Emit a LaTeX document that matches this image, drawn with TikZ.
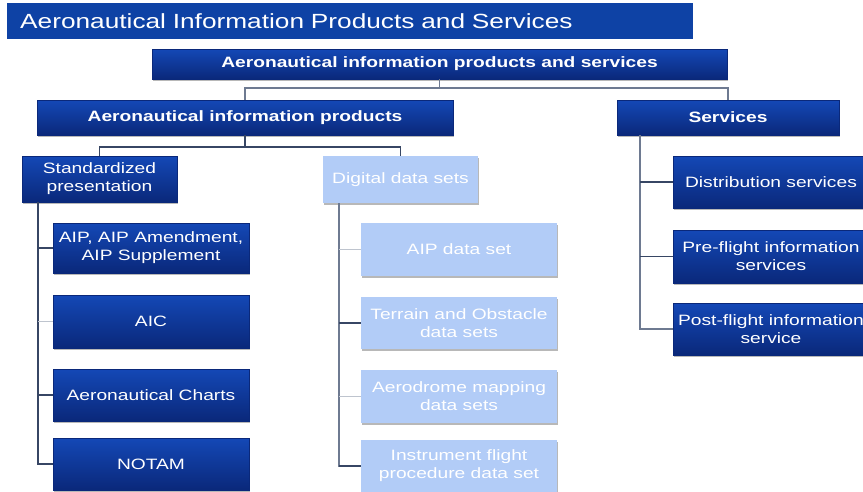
\documentclass[tikz,border=0pt]{standalone}
\usepackage{fontspec}
\setmainfont{Liberation Sans}[FakeStretch=1.28]
\usetikzlibrary{shadows}
\definecolor{dtop}{RGB}{20,72,182}
\definecolor{dbot}{RGB}{10,40,122}
\definecolor{lightbox}{RGB}{178,204,247}
\definecolor{banner}{RGB}{14,66,165}
\definecolor{linedark}{RGB}{55,70,100}
\definecolor{linemid}{RGB}{110,122,145}
\definecolor{linelight}{RGB}{190,196,206}
\begin{document}
\begin{tikzpicture}[x=1pt,y=-1pt,
  shad/.style={drop shadow={shadow xshift=1.2pt, shadow yshift=-1.8pt, opacity=0.28, fill=black}},
  dbox/.style={rectangle, draw=dbot, line width=0.4pt, top color=dtop, bottom color=dbot,
    text=white, align=center, inner sep=0pt, font=\fontsize{15}{18}\selectfont, shad},
  bbox/.style={dbox, font=\bfseries\fontsize{15}{18}\selectfont},
  lbox/.style={rectangle, fill=lightbox, draw=none, text=white, align=center, inner sep=0pt,
    font=\fontsize{15}{18}\selectfont, shad},
  leaf/.style={minimum width=196, minimum height=52},
  conn/.style={draw=linedark, line width=1.2pt},
  connmid/.style={draw=linemid, line width=1.2pt},
  connlight/.style={draw=linelight, line width=1.0pt}
]
\fill[white] (0,0) rectangle (863,491);
\useasboundingbox (0,0) rectangle (863,491);

% title banner
\node[rectangle, fill=banner, anchor=north west, minimum height=36, text width=660,
  inner xsep=13, inner ysep=0pt, align=left, text=white,
  font=\fontsize{20.5}{24}\selectfont] (title) at (7,3)
  {Aeronautical Information Products and Services};

% level 1 and 2
\node[bbox, minimum width=575, minimum height=30] (top) at (439.5,64)
  {Aeronautical information products and services};
\node[bbox, minimum width=416, minimum height=35] (prod) at (245,117.5)
  {Aeronautical information products};
\node[bbox, minimum width=222, minimum height=35] (serv) at (728,117.5)
  {Services};

% level 3
\node[dbox, minimum width=155, minimum height=46] (std) at (99.5,179)
  {Standardized\\presentation};
\node[lbox, minimum width=155, minimum height=47] (dig) at (400.5,179.5)
  {Digital data sets};

% standardized presentation
\node[dbox, leaf, minimum height=50] (aip) at (151,248) {AIP, AIP Amendment,\\AIP Supplement};
\node[dbox, leaf, minimum height=53] (aic) at (151,321.5) {AIC};
\node[dbox, leaf] (charts) at (151,395) {Aeronautical Charts};
\node[dbox, leaf] (notam) at (151,464) {NOTAM};

% digital data sets
\node[lbox, leaf, minimum height=53] (aipds) at (459,249.5) {AIP data set};
\node[lbox, leaf] (terrain) at (459,323) {Terrain and Obstacle\\data sets};
\node[lbox, leaf, minimum height=53] (aero) at (459,396.5) {Aerodrome mapping\\data sets};
\node[lbox, leaf] (instr) at (459,466) {Instrument flight\\procedure data set};

% services
\node[dbox, leaf] (dist) at (771,182) {Distribution services};
\node[dbox, leaf, minimum height=53] (pre) at (771,256.5) {Pre-flight information\\services};
\node[dbox, leaf] (post) at (771,329) {Post-flight information\\service};

% connectors level 1 -> 2
\coordinate (j1) at (top.south |- 0,88);
\draw[connmid] (top.south) -- (j1);
\draw[connmid] (j1) -| (prod.north);
\draw[connmid] (j1) -| (serv.north);

% level 2 -> 3
\coordinate (j2) at (prod.south |- 0,147);
\draw[conn] (prod.south) -- (j2);
\draw[conn] (j2) -| (std.north);
\draw[conn] (j2) -| (dig.north);

% standardized spine
\coordinate (s1) at (std.south -| 38,0);
\draw[conn] (s1) |- (notam.west);
\draw[conn] (aip.west -| s1) -- (aip.west);
\draw[connlight] (aic.west -| s1) -- (aic.west);
\draw[conn] (charts.west -| s1) -- (charts.west);

% digital spine
\coordinate (s2) at (dig.south -| 339,0);
\draw[connmid] (s2) |- (instr.west);
\draw[connlight] (aipds.west -| s2) -- (aipds.west);
\draw[conn] (terrain.west -| s2) -- (terrain.west);
\draw[connlight] (aero.west -| s2) -- (aero.west);
\draw[conn] (instr.west -| s2) -- (instr.west);

% services spine
\coordinate (s3) at (serv.south -| 640,0);
\draw[connmid] (s3) |- (post.west);
\draw[conn] (dist.west -| s3) -- (dist.west);
\draw[conn] (pre.west -| s3) -- (pre.west);
\end{tikzpicture}
\end{document}
